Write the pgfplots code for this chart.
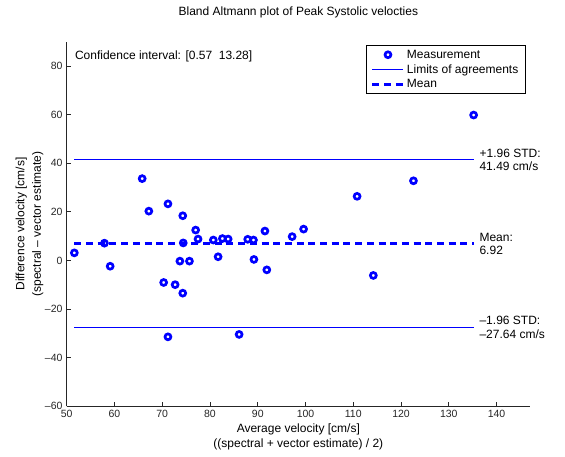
\documentclass[border=0pt]{standalone}
\usepackage{fontspec}
\setmainfont{Liberation Sans}
\usepackage{pgfplots}
\pgfplotsset{compat=1.18}
\definecolor{mblue}{RGB}{0,0,255}
\definecolor{axgray}{RGB}{38,38,38}
\begin{document}
\fontsize{12bp}{14.4bp}\selectfont
\begin{tikzpicture}
\path[use as bounding box] (0,0) rectangle (565bp,457bp);
\begin{axis}[
  at={(66.7bp,51bp)}, anchor=south west,
  scale only axis, width=463.3bp, height=364bp,
  xmin=50, xmax=147, ymin=-60, ymax=90,
  axis x line*=bottom, axis y line*=left,
  axis line style={-, axgray, line width=0.9bp},
  tick style={axgray, line width=0.8bp},
  tick align=inside, major tick length=4.5bp,
  xtick={50,60,...,140},
  xticklabels={50,60,70,80,90,100,110,120,130,140},
  ytick={-60,-40,...,80},
  yticklabels={–60,–40,–20,0,20,40,60,80},
  ticklabel style={font=\fontsize{10.5bp}{12bp}\selectfont, text=axgray},
  clip=false,
  title={Bland Altmann plot of Peak Systolic velocties},
  title style={at={(axis description cs:0.5,1)}, anchor=south, inner sep=0pt, yshift=18bp, font=\fontsize{12bp}{14bp}\selectfont},
  xlabel={Average velocity [cm/s]\\((spectral + vector estimate) / 2)},
  xlabel style={at={(axis description cs:0.5,0)}, anchor=north, inner sep=0pt, yshift=-17.5bp, align=center, font=\fontsize{12bp}{15bp}\selectfont},
  ylabel={Difference velocity [cm/s]\\(spectral – vector estimate)},
  ylabel style={at={(axis description cs:0,0.5)}, rotate=0, anchor=south, inner sep=0pt, yshift=23.2bp, align=center, font=\fontsize{12bp}{16.5bp}\selectfont},
  legend image code/.code={\draw[mark repeat=2,mark phase=2,#1] plot coordinates {(0bp,0bp) (15.5bp,0bp) (31bp,0bp)};},
  legend style={at={(axis description cs:1,1)}, anchor=north east, xshift=-4.3bp, yshift=-3bp,
    draw=black, line width=0.7bp, fill=white, inner xsep=5bp, inner ysep=2bp,
    font=\fontsize{12bp}{14bp}\selectfont,
    nodes={inner xsep=2bp, inner ysep=1.9bp, text height=9bp, text depth=2bp}},
  legend cell align=left,
]
\addplot[only marks, mark=o, mark size=2.95bp, mark options={draw=mblue, line width=2.7bp}] coordinates {
(51.6,3.1) (57.9,7.1) (59.1,-2.4) (65.8,33.7) (67.2,20.3) (70.3,-9.1)
(71.2,23.3) (71.2,-31.5) (72.7,-10.0) (73.7,-0.3) (74.3,18.4) (74.3,-13.5)
(74.4,7.2) (75.7,-0.3) (77.0,12.5) (77.5,8.8) (80.7,8.4) (81.7,1.5)
(82.6,9.0) (83.8,8.8) (86.1,-30.5) (87.9,8.7) (89.1,8.4) (89.2,0.4)
(91.5,12.1) (91.9,-3.9) (97.2,9.8) (99.6,12.9) (110.8,26.4) (114.2,-6.2)
(122.6,32.8) (135.2,59.9)
};
\addlegendentry{Measurement}
\addplot[color=mblue, line width=1bp] coordinates {(51.6,41.49) (135.2,41.49)};
\addlegendentry{Limits of agreements}
\addplot[color=mblue, line width=1bp, forget plot] coordinates {(51.6,-27.64) (135.2,-27.64)};
\addplot[color=mblue, line width=3bp, dash pattern=on 7bp off 4.7bp] coordinates {(51.6,6.92) (135.2,6.92)};
\addlegendentry{Mean}
\node[anchor=west, inner sep=0pt, align=left, font=\fontsize{12bp}{13.3bp}\selectfont] at (axis cs:136.4,41.49) {+1.96 STD:\\41.49 cm/s};
\node[anchor=west, inner sep=0pt, align=left, font=\fontsize{12bp}{13.3bp}\selectfont] at (axis cs:136.4,6.92) {Mean:\\6.92};
\node[anchor=west, inner sep=0pt, align=left, font=\fontsize{12bp}{13.3bp}\selectfont] at (axis cs:136.4,-27.64) {–1.96 STD:\\–27.64 cm/s};
\node[anchor=west, inner sep=0pt, font=\fontsize{12bp}{14bp}\selectfont] at (axis cs:51.7,84) {Confidence interval: [0.57\ \ 13.28]};
\end{axis}
\end{tikzpicture}
\end{document}
